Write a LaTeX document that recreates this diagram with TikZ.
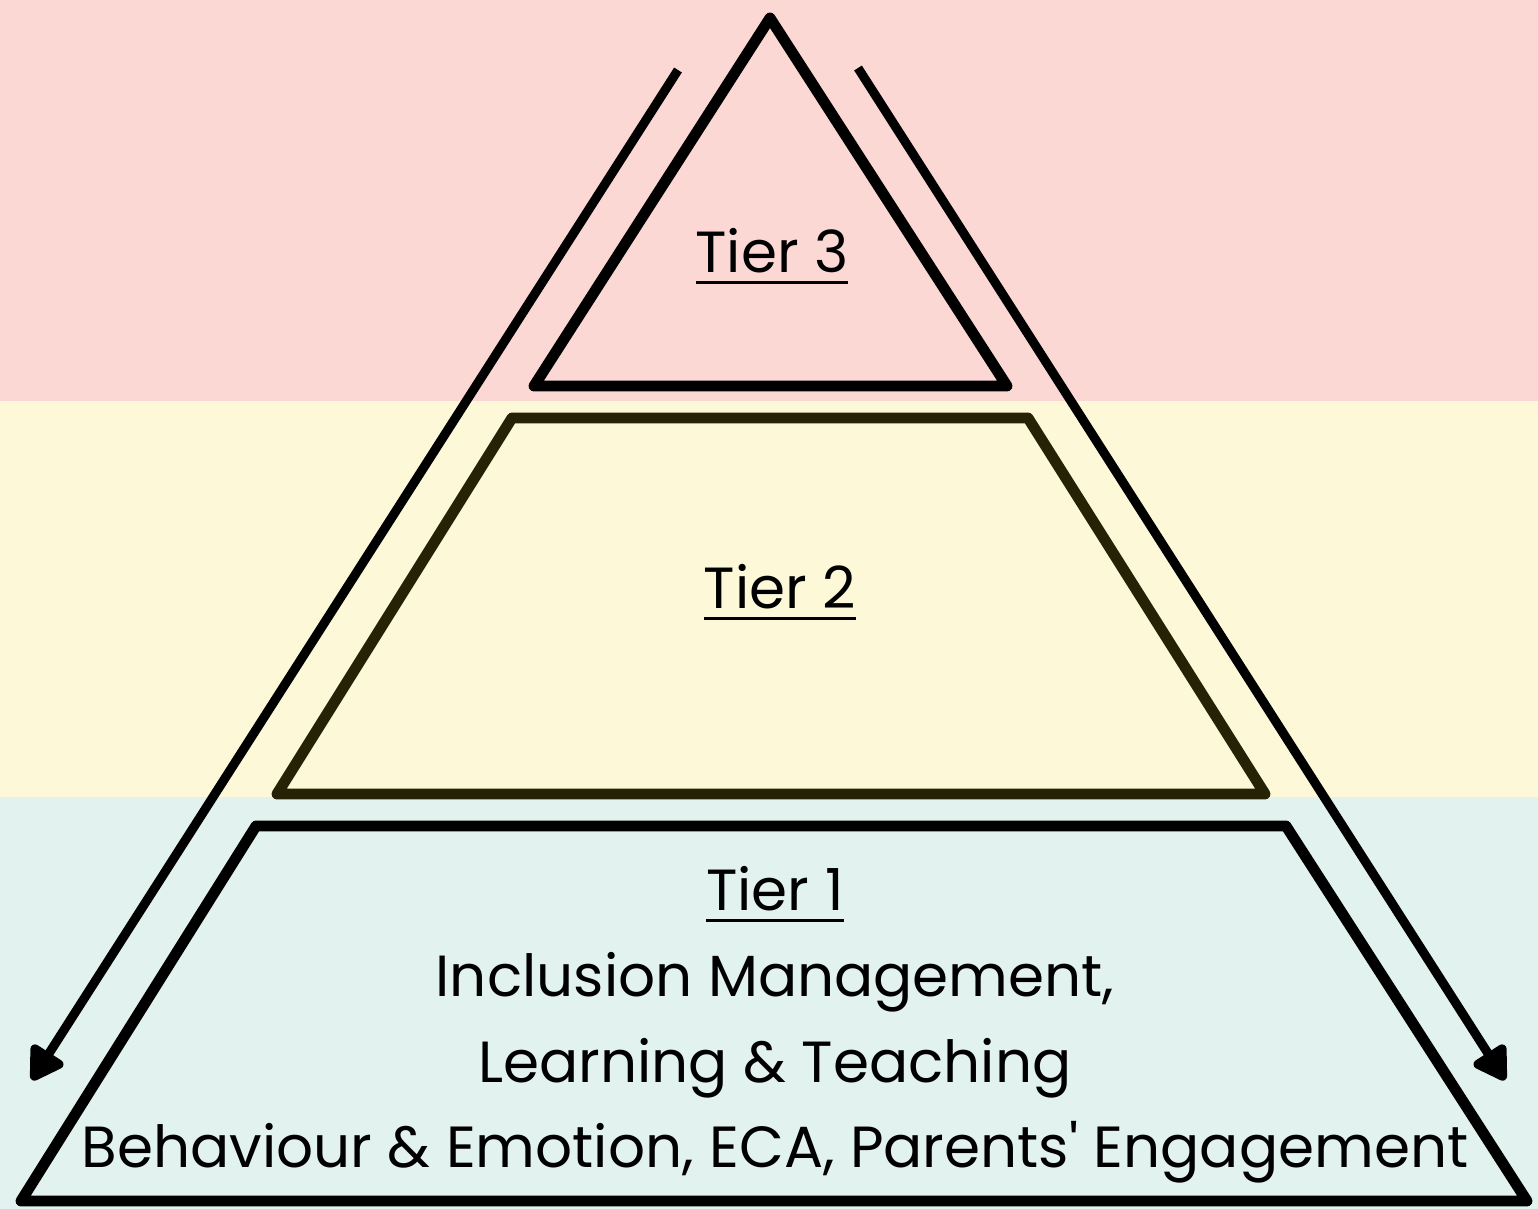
\documentclass[tikz,border=0pt]{standalone}
\usepackage{fontspec}
\setmainfont{Poppins}[Ligatures=TeXOff]
\usetikzlibrary{arrows.meta}

\definecolor{bandpink}{RGB}{252,216,213}
\definecolor{bandyellow}{RGB}{253,249,216}
\definecolor{bandteal}{RGB}{226,242,238}
\definecolor{olive}{RGB}{38,34,6}

% underlined tier heading with a heavier rule
\newcommand{\tierhead}[1]{\setbox0\hbox{#1}\rlap{\rule[-3.5pt]{\wd0}{1pt}}\box0}

\begin{document}
\begin{tikzpicture}[x=0.01cm, y=-0.01cm,
    tier/.style={
        draw=black,
        line width=3.1pt,
        line join=round
    },
    label/.style={
        font=\fontsize{16.5}{20}\selectfont,
        inner sep=0pt,
        anchor=base
    },
    flow/.style={
        line width=2.6pt,
        -{Triangle[length=3.7mm, width=4.2mm, round]}
    }
]
% colour bands behind the pyramid
\fill[bandpink] (0,0) rectangle (1538,401);
\fill[bandyellow] (0,401) rectangle (1538,797);
\fill[bandteal] (0,797) rectangle (1538,1209);
\useasboundingbox (0,0) rectangle (1538,1209);

% the three tiers
\draw[tier] (770,18) -- (1007,386) -- (534,386) -- cycle;
\draw[tier, draw=olive] (512,418) -- (1028,418) -- (1265,794) -- (277,794) -- cycle;
\draw[tier] (256,826) -- (1286,826) -- (1527,1201) -- (21,1201) -- cycle;

% labels
\node[label] (tier3) at (772,272) {\tierhead{Tier 3}};
\node[label] (tier2) at (780,608) {\tierhead{Tier 2}};
\node[label] (tier1) at (775,910) {\tierhead{Tier 1}};
\node[label] (mgmt) at (775,996) {Inclusion Management,};
\node[label] (learn) at (775,1082) {Learning \& Teaching};
\node[label] (behav) at (775,1167) {Behaviour \& Emotion, ECA, Parents' Engagement};

% arrows down both sides
\coordinate (ltop) at (678,70);
\coordinate (lend) at (32,1080);
\coordinate (rtop) at (858,68);
\coordinate (rend) at (1505,1080);
\draw[flow] (ltop) -- (lend);
\draw[flow] (rtop) -- (rend);
\end{tikzpicture}
\end{document}
